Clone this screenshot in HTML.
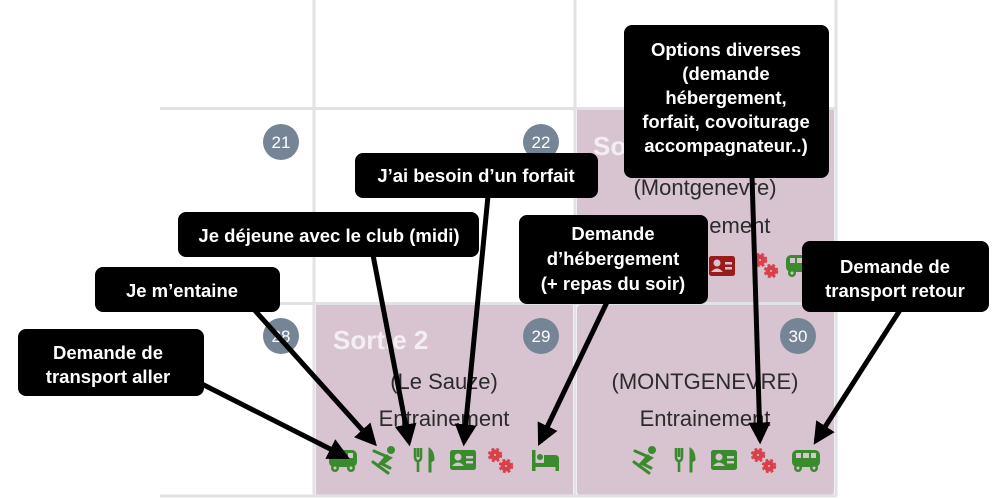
<!DOCTYPE html>
<html><head><meta charset="utf-8"><style>
html,body{margin:0;padding:0;background:#fff;width:1000px;height:500px;overflow:hidden}
svg text{font-family:"Liberation Sans",Arial,sans-serif}
</style></head><body>
<svg width="1000" height="500" viewBox="0 0 1000 500" xmlns="http://www.w3.org/2000/svg">
<defs>
<g id="bus"><rect x="-14" y="-10" width="28" height="17" rx="5"/><rect x="-10" y="-7" width="5" height="5" fill="#d8c4d0"/><rect x="-3" y="-7" width="6" height="5" fill="#d8c4d0"/><rect x="5" y="-7" width="5" height="5" fill="#d8c4d0"/><circle cx="-8" cy="8" r="4"/><circle cx="8" cy="8" r="4"/><circle cx="-8" cy="8" r="1.5" fill="#d8c4d0"/><circle cx="8" cy="8" r="1.5" fill="#d8c4d0"/></g>
<g id="ski"><circle cx="7" cy="-10" r="3.5"/><path d="M-10,-9 L6,-2 L-2,4 L6,8 M-11,2 L4,13 M3,-4 L-6,6" stroke-width="3" fill="none" stroke-linecap="round"/></g>
<g id="fork"><path d="M-9,-12 V-3 Q-9,1 -6,1 V12 M-6,-12 V-3 M-3,-12 V-3 Q-3,1 -6,1" stroke-width="2.6" fill="none"/><path d="M5,12 V-12 Q10,-9 10,0 L7,2 V12 Z"/></g>
<g id="card"><rect x="-13" y="-10" width="26" height="20" rx="2.5"/><circle cx="-5" cy="-3" r="3.5" fill="#d8c4d0"/><path d="M-11,6 Q-5,-1 1,6 Z" fill="#d8c4d0"/><rect x="3" y="-4" width="7" height="2.5" fill="#d8c4d0"/><rect x="3" y="1" width="7" height="2.5" fill="#d8c4d0"/></g>
<g id="gears"><circle cx="-5" cy="-5" r="5.5" stroke-width="3.5" stroke-dasharray="2.5 2"/><circle cx="-5" cy="-5" r="3.5"/><circle cx="-5" cy="-5" r="1.5" fill="#d8c4d0"/><circle cx="6" cy="6" r="5.5" stroke-width="3.5" stroke-dasharray="2.5 2"/><circle cx="6" cy="6" r="3.5"/><circle cx="6" cy="6" r="1.5" fill="#d8c4d0"/></g>
<g id="bed"><rect x="-13" y="-10" width="3.5" height="21"/><rect x="-13" y="3" width="27" height="4"/><rect x="10.5" y="3" width="3.5" height="8"/><circle cx="-5" cy="-3" r="3"/><path d="M-1,-5 H10 Q14,-5 14,-1 V3 H-1 Z"/></g>
<marker id="ah" viewBox="0 0 10 10" refX="8" refY="5" markerWidth="4.4" markerHeight="4.4" orient="auto"><path d="M0,0 L10,5 L0,10 Z" fill="#000"/></marker>
</defs>

<rect x="577" y="110" width="257" height="192" fill="#d8c4d0"/>
<rect x="316" y="305" width="257" height="190" fill="#d8c4d0"/>
<rect x="577" y="305" width="257" height="190" rx="3" fill="#d8c4d0"/>
<g stroke="#e0e2e6" stroke-width="3">
<line x1="314" y1="0" x2="314" y2="496"/>
<line x1="575" y1="0" x2="575" y2="496"/>
<line x1="836" y1="0" x2="836" y2="496"/>
<line x1="160" y1="108.5" x2="837" y2="108.5"/>
<line x1="160" y1="303.5" x2="837" y2="303.5"/>
<line x1="160" y1="496" x2="837" y2="496"/>
</g>

<g fill="#758595"><circle cx="281" cy="142" r="18"/><circle cx="541" cy="142" r="18"/><circle cx="281" cy="336" r="18"/><circle cx="541" cy="336" r="18"/><circle cx="798" cy="336" r="18"/></g>
<g fill="#fff" font-size="17" text-anchor="middle"><text x="281" y="148">21</text><text x="541" y="148">22</text><text x="281" y="342">28</text><text x="541" y="342">29</text><text x="798" y="342">30</text></g>

<text x="333" y="349" font-size="26" font-weight="bold" fill="#f3eef2">Sortie 2</text>
<text x="593" y="155" font-size="26" font-weight="bold" fill="#f3eef2">Sortie</text>
<g font-size="22" fill="#2b2b2b" text-anchor="middle">
<text x="444" y="389">(Le Sauze)</text><text x="444" y="426">Entrainement</text>
<text x="705" y="389">(MONTGENEVRE)</text><text x="705" y="426">Entrainement</text>
<text x="705" y="195">(Montgenevre)</text><text x="705" y="233">Entrainement</text>
</g>

<g fill="#3a8a2e">
<use href="#bus" x="343" y="460"/><use href="#card" x="463" y="460"/><use href="#bed" x="545" y="460"/>
<use href="#card" x="724" y="460"/><use href="#bus" x="806" y="460"/><use href="#bus" x="800" y="265"/>
</g>
<g fill="#3a8a2e" stroke="#3a8a2e"><use href="#ski" x="384" y="460"/><use href="#fork" x="424" y="460"/><use href="#ski" x="645" y="460"/><use href="#fork" x="685" y="460"/></g>
<g fill="#d9414a" stroke="#d9414a"><use href="#gears" x="500" y="460"/><use href="#gears" x="763" y="460"/><use href="#gears" x="765" y="265"/></g>
<use href="#card" x="722" y="266" fill="#9b1b1b"/>

<g stroke="#000" stroke-width="5" marker-end="url(#ah)">
<line x1="198" y1="382" x2="346" y2="457"/>
<line x1="250" y1="305" x2="374" y2="443"/>
<line x1="373" y1="255" x2="409" y2="442"/>
<line x1="488" y1="196" x2="464" y2="442"/>
<line x1="608" y1="300" x2="540" y2="442"/>
<line x1="752" y1="176" x2="760" y2="440"/>
<line x1="900" y1="310" x2="816" y2="441"/>
</g>

<g fill="#000">
<rect x="18" y="329" width="186" height="67" rx="8"/>
<rect x="95" y="267" width="185" height="45" rx="8"/>
<rect x="178" y="212" width="301" height="45" rx="8"/>
<rect x="355" y="153" width="243" height="45" rx="8"/>
<rect x="519" y="215" width="189" height="89" rx="8"/>
<rect x="624" y="25" width="205" height="153" rx="8"/>
<rect x="802" y="241" width="187" height="71" rx="8"/>
</g>
<g fill="#fff" font-size="18.5" font-weight="bold" text-anchor="middle">
<text x="108" y="359">Demande de</text><text x="108" y="383">transport aller</text>
<text x="182" y="297">Je m’entaine</text>
<text x="329" y="242">Je déjeune avec le club (midi)</text>
<text x="476" y="182">J’ai besoin d’un forfait</text>
<text x="613" y="240">Demande</text><text x="613" y="265">d’hébergement</text><text x="613" y="290">(+ repas du soir)</text>
<text x="726" y="56">Options diverses</text><text x="726" y="80">(demande</text><text x="726" y="104">hébergement,</text><text x="726" y="128">forfait, covoiturage</text><text x="726" y="152">accompagnateur..)</text>
<text x="895" y="273">Demande de</text><text x="895" y="297">transport retour</text>
</g>
</svg>
</body></html>
